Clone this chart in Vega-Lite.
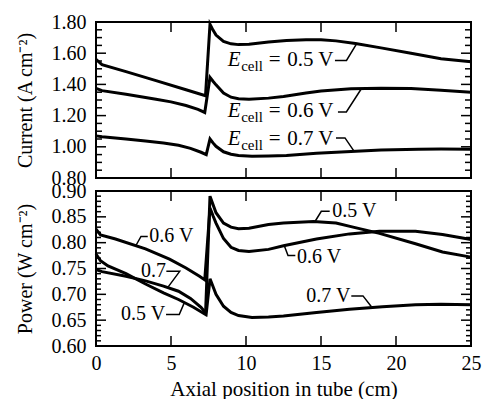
{
  "$schema": "https://vega.github.io/schema/vega-lite/v6.json",
  "padding": {"left": 14, "top": 11, "right": 8, "bottom": 2},
  "spacing": 13,
  "bounds": "flush",
  "config": {
    "font": "Liberation Serif",
    "view": {"stroke": "black", "strokeWidth": 2},
    "axis": {"domain": false, "ticks": false, "grid": false, "labelFont": "Liberation Serif", "labelFontSize": 20, "labelColor": "black", "titleFont": "Liberation Serif", "titleFontSize": 20, "titleFontWeight": "normal", "titleColor": "black", "labelOverlap": false, "labelBound": false, "labelFlush": false},
    "text": {"font": "Liberation Serif", "color": "black"}
  },
  "datasets": {
    "cur": [
      {"s": "0.5", "x": 0, "y": 1.56}, {"s": "0.5", "x": 0.4, "y": 1.527}, {"s": "0.5", "x": 2, "y": 1.482}, {"s": "0.5", "x": 4, "y": 1.424}, {"s": "0.5", "x": 6, "y": 1.366}, {"s": "0.5", "x": 7.3, "y": 1.327}, {"s": "0.5", "x": 7.6, "y": 1.785}, {"s": "0.5", "x": 7.8, "y": 1.748}, {"s": "0.5", "x": 8, "y": 1.716}, {"s": "0.5", "x": 8.5, "y": 1.676}, {"s": "0.5", "x": 9, "y": 1.66}, {"s": "0.5", "x": 9.5, "y": 1.655}, {"s": "0.5", "x": 10.2, "y": 1.657}, {"s": "0.5", "x": 11.5, "y": 1.672}, {"s": "0.5", "x": 12.7, "y": 1.682}, {"s": "0.5", "x": 14, "y": 1.687}, {"s": "0.5", "x": 15, "y": 1.686}, {"s": "0.5", "x": 16, "y": 1.679}, {"s": "0.5", "x": 17.3, "y": 1.662}, {"s": "0.5", "x": 19, "y": 1.634}, {"s": "0.5", "x": 21, "y": 1.6}, {"s": "0.5", "x": 23, "y": 1.565}, {"s": "0.5", "x": 25, "y": 1.545},
      {"s": "0.6", "x": 0, "y": 1.375}, {"s": "0.6", "x": 0.4, "y": 1.36}, {"s": "0.6", "x": 2, "y": 1.337}, {"s": "0.6", "x": 4, "y": 1.305}, {"s": "0.6", "x": 5, "y": 1.288}, {"s": "0.6", "x": 6, "y": 1.265}, {"s": "0.6", "x": 6.8, "y": 1.24}, {"s": "0.6", "x": 7.25, "y": 1.22}, {"s": "0.6", "x": 7.6, "y": 1.445}, {"s": "0.6", "x": 7.8, "y": 1.42}, {"s": "0.6", "x": 8, "y": 1.397}, {"s": "0.6", "x": 8.5, "y": 1.345}, {"s": "0.6", "x": 9, "y": 1.318}, {"s": "0.6", "x": 9.5, "y": 1.308}, {"s": "0.6", "x": 10.2, "y": 1.305}, {"s": "0.6", "x": 11.5, "y": 1.312}, {"s": "0.6", "x": 12.5, "y": 1.323}, {"s": "0.6", "x": 14, "y": 1.345}, {"s": "0.6", "x": 15, "y": 1.357}, {"s": "0.6", "x": 17, "y": 1.372}, {"s": "0.6", "x": 19, "y": 1.376}, {"s": "0.6", "x": 21, "y": 1.373}, {"s": "0.6", "x": 23, "y": 1.362}, {"s": "0.6", "x": 25, "y": 1.35},
      {"s": "0.7", "x": 0, "y": 1.07}, {"s": "0.7", "x": 0.4, "y": 1.064}, {"s": "0.7", "x": 2, "y": 1.05}, {"s": "0.7", "x": 3.3, "y": 1.037}, {"s": "0.7", "x": 4.5, "y": 1.025}, {"s": "0.7", "x": 5.5, "y": 1.01}, {"s": "0.7", "x": 6.3, "y": 0.99}, {"s": "0.7", "x": 7, "y": 0.965}, {"s": "0.7", "x": 7.35, "y": 0.95}, {"s": "0.7", "x": 7.6, "y": 1.05}, {"s": "0.7", "x": 7.8, "y": 1.025}, {"s": "0.7", "x": 8, "y": 1.003}, {"s": "0.7", "x": 8.5, "y": 0.968}, {"s": "0.7", "x": 9, "y": 0.952}, {"s": "0.7", "x": 9.5, "y": 0.944}, {"s": "0.7", "x": 10.4, "y": 0.94}, {"s": "0.7", "x": 11.5, "y": 0.941}, {"s": "0.7", "x": 12.7, "y": 0.944}, {"s": "0.7", "x": 14.7, "y": 0.958}, {"s": "0.7", "x": 17, "y": 0.97}, {"s": "0.7", "x": 19, "y": 0.979}, {"s": "0.7", "x": 21.5, "y": 0.985}, {"s": "0.7", "x": 23, "y": 0.986}, {"s": "0.7", "x": 25, "y": 0.984}
    ],
    "pow": [
      {"s": "0.5", "x": 0, "y": 0.778}, {"s": "0.5", "x": 0.3, "y": 0.765}, {"s": "0.5", "x": 0.8, "y": 0.755}, {"s": "0.5", "x": 2, "y": 0.74}, {"s": "0.5", "x": 3.3, "y": 0.72}, {"s": "0.5", "x": 4.5, "y": 0.703}, {"s": "0.5", "x": 5.5, "y": 0.69}, {"s": "0.5", "x": 6.5, "y": 0.675}, {"s": "0.5", "x": 7.3, "y": 0.661}, {"s": "0.5", "x": 7.6, "y": 0.89}, {"s": "0.5", "x": 7.8, "y": 0.874}, {"s": "0.5", "x": 8, "y": 0.858}, {"s": "0.5", "x": 8.5, "y": 0.838}, {"s": "0.5", "x": 9, "y": 0.83}, {"s": "0.5", "x": 9.5, "y": 0.827}, {"s": "0.5", "x": 10.2, "y": 0.828}, {"s": "0.5", "x": 11.5, "y": 0.835}, {"s": "0.5", "x": 12.5, "y": 0.838}, {"s": "0.5", "x": 14.5, "y": 0.841}, {"s": "0.5", "x": 16, "y": 0.838}, {"s": "0.5", "x": 17, "y": 0.831}, {"s": "0.5", "x": 18.9, "y": 0.818}, {"s": "0.5", "x": 21.3, "y": 0.798}, {"s": "0.5", "x": 23.1, "y": 0.782}, {"s": "0.5", "x": 25, "y": 0.772},
      {"s": "0.6", "x": 0, "y": 0.826}, {"s": "0.6", "x": 0.3, "y": 0.815}, {"s": "0.6", "x": 1.3, "y": 0.807}, {"s": "0.6", "x": 3.3, "y": 0.788}, {"s": "0.6", "x": 4.9, "y": 0.768}, {"s": "0.6", "x": 6, "y": 0.751}, {"s": "0.6", "x": 6.9, "y": 0.735}, {"s": "0.6", "x": 7.25, "y": 0.728}, {"s": "0.6", "x": 7.6, "y": 0.867}, {"s": "0.6", "x": 7.8, "y": 0.852}, {"s": "0.6", "x": 8, "y": 0.838}, {"s": "0.6", "x": 8.5, "y": 0.808}, {"s": "0.6", "x": 9, "y": 0.791}, {"s": "0.6", "x": 9.5, "y": 0.785}, {"s": "0.6", "x": 10.2, "y": 0.783}, {"s": "0.6", "x": 11.5, "y": 0.787}, {"s": "0.6", "x": 12.5, "y": 0.794}, {"s": "0.6", "x": 14.7, "y": 0.807}, {"s": "0.6", "x": 16.9, "y": 0.817}, {"s": "0.6", "x": 18.9, "y": 0.822}, {"s": "0.6", "x": 21.3, "y": 0.822}, {"s": "0.6", "x": 23.1, "y": 0.816}, {"s": "0.6", "x": 25, "y": 0.806},
      {"s": "0.7", "x": 0, "y": 0.748}, {"s": "0.7", "x": 0.4, "y": 0.744}, {"s": "0.7", "x": 2, "y": 0.735}, {"s": "0.7", "x": 3.3, "y": 0.726}, {"s": "0.7", "x": 4.5, "y": 0.716}, {"s": "0.7", "x": 5.5, "y": 0.706}, {"s": "0.7", "x": 6.3, "y": 0.692}, {"s": "0.7", "x": 7, "y": 0.675}, {"s": "0.7", "x": 7.35, "y": 0.663}, {"s": "0.7", "x": 7.6, "y": 0.73}, {"s": "0.7", "x": 7.8, "y": 0.715}, {"s": "0.7", "x": 8, "y": 0.7}, {"s": "0.7", "x": 8.5, "y": 0.677}, {"s": "0.7", "x": 9, "y": 0.665}, {"s": "0.7", "x": 9.5, "y": 0.659}, {"s": "0.7", "x": 10.4, "y": 0.655}, {"s": "0.7", "x": 11.5, "y": 0.656}, {"s": "0.7", "x": 12.5, "y": 0.658}, {"s": "0.7", "x": 14.7, "y": 0.665}, {"s": "0.7", "x": 16.9, "y": 0.671}, {"s": "0.7", "x": 19.1, "y": 0.676}, {"s": "0.7", "x": 21.3, "y": 0.68}, {"s": "0.7", "x": 23, "y": 0.681}, {"s": "0.7", "x": 25, "y": 0.68}
    ],
    "leadTop": [
      {"s": "0.5", "o": 1, "x": 15.93, "y": 1.554}, {"s": "0.5", "o": 2, "x": 16.7, "y": 1.554}, {"s": "0.5", "o": 3, "x": 17.37, "y": 1.66},
      {"s": "0.6", "o": 1, "x": 16.13, "y": 1.223}, {"s": "0.6", "o": 2, "x": 16.69, "y": 1.223}, {"s": "0.6", "o": 3, "x": 17.69, "y": 1.372},
      {"s": "0.7", "o": 1, "x": 16.0, "y": 1.057}, {"s": "0.7", "o": 2, "x": 16.6, "y": 1.057}, {"s": "0.7", "o": 3, "x": 17.2, "y": 0.972}
    ],
    "labTop": [
      {"x": 8.78, "y": 1.554, "v": "0.5 V"},
      {"x": 8.78, "y": 1.228, "v": "0.6 V"},
      {"x": 8.78, "y": 1.052, "v": "0.7 V"}
    ],
    "leadBot": [
      {"s": "a", "o": 1, "x": 2.67, "y": 0.795}, {"s": "a", "o": 2, "x": 3.0, "y": 0.812}, {"s": "a", "o": 3, "x": 3.45, "y": 0.812},
      {"s": "b", "o": 1, "x": 4.69, "y": 0.7445}, {"s": "b", "o": 2, "x": 5.58, "y": 0.7445}, {"s": "b", "o": 3, "x": 4.8, "y": 0.714},
      {"s": "c", "o": 1, "x": 4.67, "y": 0.661}, {"s": "c", "o": 2, "x": 5.55, "y": 0.661}, {"s": "c", "o": 3, "x": 5.89, "y": 0.684},
      {"s": "d", "o": 1, "x": 14.58, "y": 0.84}, {"s": "d", "o": 2, "x": 15.02, "y": 0.8606}, {"s": "d", "o": 3, "x": 15.58, "y": 0.8606},
      {"s": "e", "o": 1, "x": 12.58, "y": 0.792}, {"s": "e", "o": 2, "x": 12.8, "y": 0.775}, {"s": "e", "o": 3, "x": 13.29, "y": 0.775},
      {"s": "f", "o": 1, "x": 17.02, "y": 0.697}, {"s": "f", "o": 2, "x": 17.8, "y": 0.697}, {"s": "f", "o": 3, "x": 18.36, "y": 0.676}
    ],
    "labBot": [
      {"x": 3.55, "y": 0.812, "t": "0.6 V"},
      {"x": 3.0, "y": 0.7445, "t": "0.7"},
      {"x": 1.67, "y": 0.661, "t": "0.5 V"},
      {"x": 15.75, "y": 0.8606, "t": "0.5 V"},
      {"x": 13.4, "y": 0.773, "t": "0.6 V"},
      {"x": 14.02, "y": 0.697, "t": "0.7 V"}
    ],
    "tkT": [
      {"i": "a1", "x": 0, "y": 1.0}, {"i": "a1", "x": 0.667, "y": 1.0}, {"i": "a2", "x": 0, "y": 1.2}, {"i": "a2", "x": 0.667, "y": 1.2}, {"i": "a3", "x": 0, "y": 1.4}, {"i": "a3", "x": 0.667, "y": 1.4}, {"i": "a4", "x": 0, "y": 1.6}, {"i": "a4", "x": 0.667, "y": 1.6},
      {"i": "b1", "x": 24.333, "y": 1.0}, {"i": "b1", "x": 25, "y": 1.0}, {"i": "b2", "x": 24.333, "y": 1.2}, {"i": "b2", "x": 25, "y": 1.2}, {"i": "b3", "x": 24.333, "y": 1.4}, {"i": "b3", "x": 25, "y": 1.4}, {"i": "b4", "x": 24.333, "y": 1.6}, {"i": "b4", "x": 25, "y": 1.6},
      {"i": "c1", "x": 0, "y": 0.85}, {"i": "c1", "x": 0.4, "y": 0.85}, {"i": "c2", "x": 0, "y": 0.9}, {"i": "c2", "x": 0.4, "y": 0.9}, {"i": "c3", "x": 0, "y": 0.95}, {"i": "c3", "x": 0.4, "y": 0.95},
      {"i": "c4", "x": 0, "y": 1.05}, {"i": "c4", "x": 0.4, "y": 1.05}, {"i": "c5", "x": 0, "y": 1.1}, {"i": "c5", "x": 0.4, "y": 1.1}, {"i": "c6", "x": 0, "y": 1.15}, {"i": "c6", "x": 0.4, "y": 1.15},
      {"i": "c7", "x": 0, "y": 1.25}, {"i": "c7", "x": 0.4, "y": 1.25}, {"i": "c8", "x": 0, "y": 1.3}, {"i": "c8", "x": 0.4, "y": 1.3}, {"i": "c9", "x": 0, "y": 1.35}, {"i": "c9", "x": 0.4, "y": 1.35},
      {"i": "c10", "x": 0, "y": 1.45}, {"i": "c10", "x": 0.4, "y": 1.45}, {"i": "c11", "x": 0, "y": 1.5}, {"i": "c11", "x": 0.4, "y": 1.5}, {"i": "c12", "x": 0, "y": 1.55}, {"i": "c12", "x": 0.4, "y": 1.55},
      {"i": "c13", "x": 0, "y": 1.65}, {"i": "c13", "x": 0.4, "y": 1.65}, {"i": "c14", "x": 0, "y": 1.7}, {"i": "c14", "x": 0.4, "y": 1.7}, {"i": "c15", "x": 0, "y": 1.75}, {"i": "c15", "x": 0.4, "y": 1.75},
      {"i": "d1", "x": 24.6, "y": 0.85}, {"i": "d1", "x": 25, "y": 0.85}, {"i": "d2", "x": 24.6, "y": 0.9}, {"i": "d2", "x": 25, "y": 0.9}, {"i": "d3", "x": 24.6, "y": 0.95}, {"i": "d3", "x": 25, "y": 0.95},
      {"i": "d4", "x": 24.6, "y": 1.05}, {"i": "d4", "x": 25, "y": 1.05}, {"i": "d5", "x": 24.6, "y": 1.1}, {"i": "d5", "x": 25, "y": 1.1}, {"i": "d6", "x": 24.6, "y": 1.15}, {"i": "d6", "x": 25, "y": 1.15},
      {"i": "d7", "x": 24.6, "y": 1.25}, {"i": "d7", "x": 25, "y": 1.25}, {"i": "d8", "x": 24.6, "y": 1.3}, {"i": "d8", "x": 25, "y": 1.3}, {"i": "d9", "x": 24.6, "y": 1.35}, {"i": "d9", "x": 25, "y": 1.35},
      {"i": "d10", "x": 24.6, "y": 1.45}, {"i": "d10", "x": 25, "y": 1.45}, {"i": "d11", "x": 24.6, "y": 1.5}, {"i": "d11", "x": 25, "y": 1.5}, {"i": "d12", "x": 24.6, "y": 1.55}, {"i": "d12", "x": 25, "y": 1.55},
      {"i": "d13", "x": 24.6, "y": 1.65}, {"i": "d13", "x": 25, "y": 1.65}, {"i": "d14", "x": 24.6, "y": 1.7}, {"i": "d14", "x": 25, "y": 1.7}, {"i": "d15", "x": 24.6, "y": 1.75}, {"i": "d15", "x": 25, "y": 1.75},
      {"i": "e1", "x": 5, "y": 0.8}, {"i": "e1", "x": 5, "y": 0.864}, {"i": "e2", "x": 10, "y": 0.8}, {"i": "e2", "x": 10, "y": 0.864}, {"i": "e3", "x": 15, "y": 0.8}, {"i": "e3", "x": 15, "y": 0.864}, {"i": "e4", "x": 20, "y": 0.8}, {"i": "e4", "x": 20, "y": 0.864},
      {"i": "f1", "x": 5, "y": 1.736}, {"i": "f1", "x": 5, "y": 1.8}, {"i": "f2", "x": 10, "y": 1.736}, {"i": "f2", "x": 10, "y": 1.8}, {"i": "f3", "x": 15, "y": 1.736}, {"i": "f3", "x": 15, "y": 1.8}, {"i": "f4", "x": 20, "y": 1.736}, {"i": "f4", "x": 20, "y": 1.8}
    ],
    "tkB": [
      {"i": "a1", "x": 0, "y": 0.65}, {"i": "a1", "x": 0.667, "y": 0.65}, {"i": "a2", "x": 0, "y": 0.7}, {"i": "a2", "x": 0.667, "y": 0.7}, {"i": "a3", "x": 0, "y": 0.75}, {"i": "a3", "x": 0.667, "y": 0.75}, {"i": "a4", "x": 0, "y": 0.8}, {"i": "a4", "x": 0.667, "y": 0.8}, {"i": "a5", "x": 0, "y": 0.85}, {"i": "a5", "x": 0.667, "y": 0.85},
      {"i": "b1", "x": 24.333, "y": 0.65}, {"i": "b1", "x": 25, "y": 0.65}, {"i": "b2", "x": 24.333, "y": 0.7}, {"i": "b2", "x": 25, "y": 0.7}, {"i": "b3", "x": 24.333, "y": 0.75}, {"i": "b3", "x": 25, "y": 0.75}, {"i": "b4", "x": 24.333, "y": 0.8}, {"i": "b4", "x": 25, "y": 0.8}, {"i": "b5", "x": 24.333, "y": 0.85}, {"i": "b5", "x": 25, "y": 0.85},
      {"i": "c1", "x": 0, "y": 0.61}, {"i": "c1", "x": 0.333, "y": 0.61}, {"i": "c2", "x": 0, "y": 0.62}, {"i": "c2", "x": 0.333, "y": 0.62}, {"i": "c3", "x": 0, "y": 0.63}, {"i": "c3", "x": 0.333, "y": 0.63}, {"i": "c4", "x": 0, "y": 0.64}, {"i": "c4", "x": 0.333, "y": 0.64},
      {"i": "c5", "x": 0, "y": 0.66}, {"i": "c5", "x": 0.333, "y": 0.66}, {"i": "c6", "x": 0, "y": 0.67}, {"i": "c6", "x": 0.333, "y": 0.67}, {"i": "c7", "x": 0, "y": 0.68}, {"i": "c7", "x": 0.333, "y": 0.68}, {"i": "c8", "x": 0, "y": 0.69}, {"i": "c8", "x": 0.333, "y": 0.69},
      {"i": "c9", "x": 0, "y": 0.71}, {"i": "c9", "x": 0.333, "y": 0.71}, {"i": "c10", "x": 0, "y": 0.72}, {"i": "c10", "x": 0.333, "y": 0.72}, {"i": "c11", "x": 0, "y": 0.73}, {"i": "c11", "x": 0.333, "y": 0.73}, {"i": "c12", "x": 0, "y": 0.74}, {"i": "c12", "x": 0.333, "y": 0.74},
      {"i": "c13", "x": 0, "y": 0.76}, {"i": "c13", "x": 0.333, "y": 0.76}, {"i": "c14", "x": 0, "y": 0.77}, {"i": "c14", "x": 0.333, "y": 0.77}, {"i": "c15", "x": 0, "y": 0.78}, {"i": "c15", "x": 0.333, "y": 0.78}, {"i": "c16", "x": 0, "y": 0.79}, {"i": "c16", "x": 0.333, "y": 0.79},
      {"i": "c17", "x": 0, "y": 0.81}, {"i": "c17", "x": 0.333, "y": 0.81}, {"i": "c18", "x": 0, "y": 0.82}, {"i": "c18", "x": 0.333, "y": 0.82}, {"i": "c19", "x": 0, "y": 0.83}, {"i": "c19", "x": 0.333, "y": 0.83}, {"i": "c20", "x": 0, "y": 0.84}, {"i": "c20", "x": 0.333, "y": 0.84},
      {"i": "c21", "x": 0, "y": 0.86}, {"i": "c21", "x": 0.333, "y": 0.86}, {"i": "c22", "x": 0, "y": 0.87}, {"i": "c22", "x": 0.333, "y": 0.87}, {"i": "c23", "x": 0, "y": 0.88}, {"i": "c23", "x": 0.333, "y": 0.88}, {"i": "c24", "x": 0, "y": 0.89}, {"i": "c24", "x": 0.333, "y": 0.89},
      {"i": "d1", "x": 24.667, "y": 0.61}, {"i": "d1", "x": 25, "y": 0.61}, {"i": "d2", "x": 24.667, "y": 0.62}, {"i": "d2", "x": 25, "y": 0.62}, {"i": "d3", "x": 24.667, "y": 0.63}, {"i": "d3", "x": 25, "y": 0.63}, {"i": "d4", "x": 24.667, "y": 0.64}, {"i": "d4", "x": 25, "y": 0.64},
      {"i": "d5", "x": 24.667, "y": 0.66}, {"i": "d5", "x": 25, "y": 0.66}, {"i": "d6", "x": 24.667, "y": 0.67}, {"i": "d6", "x": 25, "y": 0.67}, {"i": "d7", "x": 24.667, "y": 0.68}, {"i": "d7", "x": 25, "y": 0.68}, {"i": "d8", "x": 24.667, "y": 0.69}, {"i": "d8", "x": 25, "y": 0.69},
      {"i": "d9", "x": 24.667, "y": 0.71}, {"i": "d9", "x": 25, "y": 0.71}, {"i": "d10", "x": 24.667, "y": 0.72}, {"i": "d10", "x": 25, "y": 0.72}, {"i": "d11", "x": 24.667, "y": 0.73}, {"i": "d11", "x": 25, "y": 0.73}, {"i": "d12", "x": 24.667, "y": 0.74}, {"i": "d12", "x": 25, "y": 0.74},
      {"i": "d13", "x": 24.667, "y": 0.76}, {"i": "d13", "x": 25, "y": 0.76}, {"i": "d14", "x": 24.667, "y": 0.77}, {"i": "d14", "x": 25, "y": 0.77}, {"i": "d15", "x": 24.667, "y": 0.78}, {"i": "d15", "x": 25, "y": 0.78}, {"i": "d16", "x": 24.667, "y": 0.79}, {"i": "d16", "x": 25, "y": 0.79},
      {"i": "d17", "x": 24.667, "y": 0.81}, {"i": "d17", "x": 25, "y": 0.81}, {"i": "d18", "x": 24.667, "y": 0.82}, {"i": "d18", "x": 25, "y": 0.82}, {"i": "d19", "x": 24.667, "y": 0.83}, {"i": "d19", "x": 25, "y": 0.83}, {"i": "d20", "x": 24.667, "y": 0.84}, {"i": "d20", "x": 25, "y": 0.84},
      {"i": "d21", "x": 24.667, "y": 0.86}, {"i": "d21", "x": 25, "y": 0.86}, {"i": "d22", "x": 24.667, "y": 0.87}, {"i": "d22", "x": 25, "y": 0.87}, {"i": "d23", "x": 24.667, "y": 0.88}, {"i": "d23", "x": 25, "y": 0.88}, {"i": "d24", "x": 24.667, "y": 0.89}, {"i": "d24", "x": 25, "y": 0.89},
      {"i": "e1", "x": 5, "y": 0.6}, {"i": "e1", "x": 5, "y": 0.6194}, {"i": "e2", "x": 10, "y": 0.6}, {"i": "e2", "x": 10, "y": 0.6194}, {"i": "e3", "x": 15, "y": 0.6}, {"i": "e3", "x": 15, "y": 0.6194}, {"i": "e4", "x": 20, "y": 0.6}, {"i": "e4", "x": 20, "y": 0.6194},
      {"i": "f1", "x": 5, "y": 0.8806}, {"i": "f1", "x": 5, "y": 0.9}, {"i": "f2", "x": 10, "y": 0.8806}, {"i": "f2", "x": 10, "y": 0.9}, {"i": "f3", "x": 15, "y": 0.8806}, {"i": "f3", "x": 15, "y": 0.9}, {"i": "f4", "x": 20, "y": 0.8806}, {"i": "f4", "x": 20, "y": 0.9}
    ]
  },
  "vconcat": [
    {
      "width": 375,
      "height": 156,
      "layer": [
        {
          "data": {"name": "cur"},
          "mark": {"type": "line", "color": "black", "strokeWidth": 3},
          "encoding": {
            "x": {"field": "x", "type": "quantitative", "scale": {"domain": [0, 25], "nice": false},
                  "axis": {"orient": "bottom", "values": [0, 5, 10, 15, 20, 25], "labels": false, "title": null}},
            "y": {"field": "y", "type": "quantitative", "scale": {"domain": [0.8, 1.8], "nice": false, "zero": false},
                  "axis": {"orient": "left", "values": [0.8, 1.0, 1.2, 1.4, 1.6, 1.8], "format": ".2f", "labelOverlap": false,
                           "labelPadding": 10, "title": "Current (A cm⁻²)", "titlePadding": 16}},
            "detail": {"field": "s"}
          }
        },
        {
          "data": {"name": "tkT"},
          "mark": {"type": "line", "color": "black", "strokeWidth": 1.5, "strokeCap": "butt"},
          "encoding": {
            "x": {"field": "x", "type": "quantitative", "axis": null},
            "y": {"field": "y", "type": "quantitative", "axis": null},
            "detail": {"field": "i"}
          }
        },
        {
          "data": {"name": "leadTop"},
          "mark": {"type": "line", "color": "black", "strokeWidth": 1.5},
          "encoding": {
            "x": {"field": "x", "type": "quantitative", "axis": null},
            "y": {"field": "y", "type": "quantitative", "axis": null},
            "detail": {"field": "s"},
            "order": {"field": "o"}
          }
        },
        {
          "data": {"name": "labTop"},
          "mark": {"type": "text", "text": "E", "fontStyle": "italic", "align": "left", "baseline": "middle", "fontSize": 21},
          "encoding": {"x": {"field": "x", "type": "quantitative", "axis": null}, "y": {"field": "y", "type": "quantitative", "axis": null}}
        },
        {
          "data": {"name": "labTop"},
          "mark": {"type": "text", "text": "cell", "align": "left", "baseline": "middle", "fontSize": 15, "dx": 13.5, "dy": 6},
          "encoding": {"x": {"field": "x", "type": "quantitative", "axis": null}, "y": {"field": "y", "type": "quantitative", "axis": null}}
        },
        {
          "data": {"name": "labTop"},
          "mark": {"type": "text", "text": "=", "align": "left", "baseline": "middle", "fontSize": 21, "dx": 41},
          "encoding": {"x": {"field": "x", "type": "quantitative", "axis": null}, "y": {"field": "y", "type": "quantitative", "axis": null}}
        },
        {
          "data": {"name": "labTop"},
          "mark": {"type": "text", "align": "left", "baseline": "middle", "fontSize": 21, "dx": 59.5},
          "encoding": {"x": {"field": "x", "type": "quantitative", "axis": null}, "y": {"field": "y", "type": "quantitative", "axis": null}, "text": {"field": "v"}}
        }
      ],
      "resolve": {"axis": {"x": "independent", "y": "independent"}}
    },
    {
      "width": 375,
      "height": 155,
      "layer": [
        {
          "data": {"name": "pow"},
          "mark": {"type": "line", "color": "black", "strokeWidth": 3},
          "encoding": {
            "x": {"field": "x", "type": "quantitative", "scale": {"domain": [0, 25], "nice": false},
                  "axis": {"orient": "bottom", "values": [0, 5, 10, 15, 20, 25], "labelFlush": false, "labelOverlap": false, "labelPadding": 7, "title": "Axial position in tube (cm)", "titleFontSize": 21, "titlePadding": 5}},
            "y": {"field": "y", "type": "quantitative", "scale": {"domain": [0.6, 0.9], "nice": false, "zero": false},
                  "axis": {"orient": "left", "values": [0.6, 0.65, 0.7, 0.75, 0.8, 0.85, 0.9], "format": ".2f", "labelOverlap": false,
                           "labelPadding": 10, "title": "Power (W cm⁻²)", "titlePadding": 16}},
            "detail": {"field": "s"}
          }
        },
        {
          "data": {"name": "tkB"},
          "mark": {"type": "line", "color": "black", "strokeWidth": 1.5, "strokeCap": "butt"},
          "encoding": {
            "x": {"field": "x", "type": "quantitative", "axis": null},
            "y": {"field": "y", "type": "quantitative", "axis": null},
            "detail": {"field": "i"}
          }
        },
        {
          "data": {"name": "leadBot"},
          "mark": {"type": "line", "color": "black", "strokeWidth": 1.5},
          "encoding": {
            "x": {"field": "x", "type": "quantitative", "axis": null},
            "y": {"field": "y", "type": "quantitative", "axis": null},
            "detail": {"field": "s"},
            "order": {"field": "o"}
          }
        },
        {
          "data": {"name": "labBot"},
          "mark": {"type": "text", "align": "left", "baseline": "middle", "fontSize": 20},
          "encoding": {"x": {"field": "x", "type": "quantitative", "axis": null}, "y": {"field": "y", "type": "quantitative", "axis": null}, "text": {"field": "t"}}
        }
      ],
      "resolve": {"axis": {"x": "independent", "y": "independent"}}
    }
  ]
}
